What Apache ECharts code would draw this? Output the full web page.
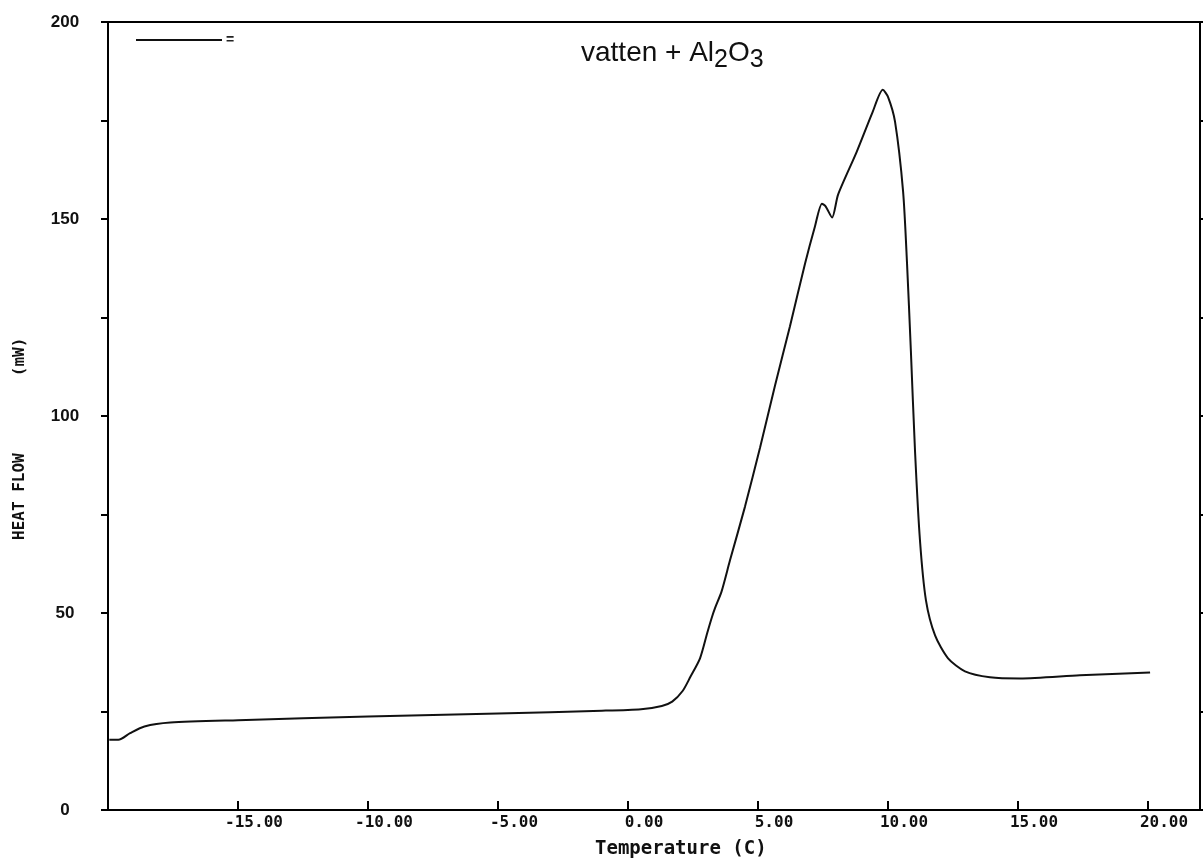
<!DOCTYPE html>
<html>
<head>
<meta charset="utf-8">
<script src="https://cdn.jsdelivr.net/npm/echarts@6/dist/echarts.min.js"></script>
<style>
html,body{margin:0;padding:0;background:#fff;}
#c{width:1203px;height:864px;}
</style>
</head>
<body>
<div id="c"></div>
<script>
// Temperature (C)
const temps = [-19.95,-19.6,-19.15,-18.6,-17.6,-15,-10,-5,-1,0.5,1.3,1.7,2.1,2.4,2.77,3.05,3.23,3.35,3.6,3.92,4.5,5.08,5.65,6.23,6.81,7.19,7.46,7.6,7.85,8.08,8.8,9.4,9.8,10.0,10.27,10.58,10.73,10.88,11.04,11.23,11.46,11.81,12.31,12.96,13.92,15.08,17.38,20.08];
// Heat flow (mW)
const heatFlow = [17.8,17.8,19.5,21.2,22.2,22.8,23.7,24.5,25.2,25.6,26.4,27.5,30.2,33.8,38.5,45,49,51.3,55.5,63.3,77,92,107.6,122.8,138.7,148.1,153.9,153.2,150.4,156.2,167.1,177,182.8,181,174.7,157,139,116.5,91,68.4,53.2,44.3,38.5,35.2,33.7,33.4,34.2,34.9];
const yLabels = [0,50,100,150,200];
const titleText = '{a|vatten + Al}{s|2}{a|O}{s|3}';
const xName = 'Temperature (C)';
const yName = 'HEAT FLOW        (mW)';
const seriesName = '=';

const data = temps.map((t,i)=>[t,heatFlow[i]]);
const chart = echarts.init(document.getElementById('c'));
chart.setOption({
  animation:false,
  backgroundColor:'#fff',
  title:{
    text:titleText, left:576, top:34,
    textStyle:{
      fontWeight:'normal',
      rich:{
        a:{fontFamily:'Liberation Sans', fontWeight:'normal', fontSize:28, color:'#111', verticalAlign:'top', lineHeight:28},
        s:{fontFamily:'Liberation Sans', fontWeight:'normal', fontSize:25, color:'#111', verticalAlign:'top', lineHeight:25, padding:[9,0,0,0]}
      }
    }
  },
  legend:{
    left:131, top:28, itemWidth:86, itemHeight:2, itemGap:0,
    data:[{name:seriesName, icon:'rect'}],
    textStyle:{fontSize:14, fontWeight:'bold', color:'#222', padding:[0,0,0,-1]}
  },
  grid:{left:108, right:3, top:22, bottom:54, show:true, borderColor:'#000', borderWidth:2},
  xAxis:{
    type:'value', min:-20, max:22, interval:5,
    axisLine:{show:true, onZero:false, lineStyle:{color:'#000', width:2}},
    axisTick:{show:true, inside:true, length:9, lineStyle:{color:'#000', width:2}},
    splitLine:{show:false},
    axisLabel:{
      margin:5, align:'center', padding:[0,0,0,32],
      fontFamily:'DejaVu Sans Mono', fontWeight:'bold', fontSize:16, color:'#111',
      formatter:function(v){ if(v<=-20 || v>20.5 || Math.abs(v%5)>1e-6) return ''; return v.toFixed(2); }
    }
  },
  yAxis:[{
    type:'value', min:0, max:200, interval:25, position:'left',
    axisLine:{show:true, onZero:false, lineStyle:{color:'#000', width:2}},
    axisTick:{show:true, length:7, lineStyle:{color:'#000', width:2}},
    splitLine:{show:false},
    axisLabel:{
      margin:43, align:'center',
      fontFamily:'Liberation Sans', fontWeight:'bold', fontSize:17, color:'#111',
      formatter:function(v){ return yLabels.indexOf(v)>=0 ? String(v) : ''; }
    }
  },{
    type:'value', min:0, max:200, interval:25, position:'right',
    axisLine:{show:true, onZero:false, lineStyle:{color:'#000', width:2}},
    axisTick:{show:true, length:4, lineStyle:{color:'#000', width:2}},
    splitLine:{show:false},
    axisLabel:{show:false}
  }],
  graphic:[
    {type:'text', left:595, top:840, style:{text:xName, font:'bold 19px "DejaVu Sans Mono"', fill:'#111'}},
    {type:'text', x:12, y:540, rotation:Math.PI/2, style:{text:yName, font:'bold 16px "DejaVu Sans Mono"', fill:'#111', textAlign:'left', textVerticalAlign:'top'}, originX:0, originY:0}
  ],
  series:[{
    name:seriesName, type:'line', data:data, showSymbol:false, smooth:0.25,
    lineStyle:{color:'#111', width:2}, itemStyle:{color:'#111'}
  }]
});
</script>
</body>
</html>
